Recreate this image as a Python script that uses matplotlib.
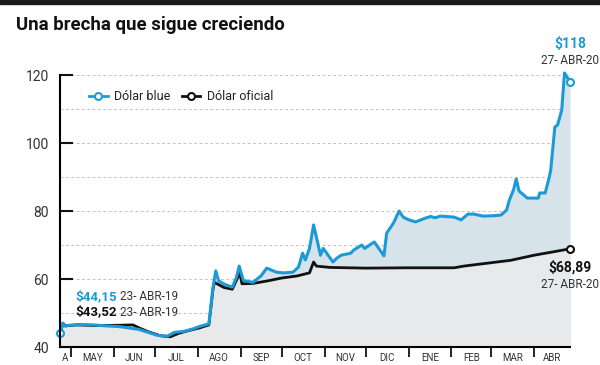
import matplotlib
matplotlib.use('Agg')
import matplotlib.pyplot as plt
import pandas as pd

plt.rcParams['font.family'] = ['Roboto', 'DejaVu Sans']

# Dólar blue
blue_dates = ['2019-04-23', '2019-04-25', '2019-04-26', '2019-04-30', '2019-05-08', '2019-05-17',
              '2019-05-27', '2019-06-05', '2019-06-12', '2019-06-19', '2019-06-26', '2019-07-03',
              '2019-07-10', '2019-07-15', '2019-07-22', '2019-07-29', '2019-08-02', '2019-08-09',
              '2019-08-12', '2019-08-14', '2019-08-16', '2019-08-20', '2019-08-26', '2019-08-29',
              '2019-08-31', '2019-09-03', '2019-09-10', '2019-09-16', '2019-09-20', '2019-09-27',
              '2019-10-02', '2019-10-09', '2019-10-13', '2019-10-16', '2019-10-18', '2019-10-21',
              '2019-10-24', '2019-10-27', '2019-10-29', '2019-10-31', '2019-11-07', '2019-11-10',
              '2019-11-13', '2019-11-20', '2019-11-22', '2019-11-28', '2019-11-30', '2019-12-07',
              '2019-12-12', '2019-12-14', '2019-12-16', '2019-12-21', '2019-12-25', '2019-12-28',
              '2020-01-01', '2020-01-06', '2020-01-13', '2020-01-17', '2020-01-20', '2020-01-24',
              '2020-02-03', '2020-02-08', '2020-02-13', '2020-02-17', '2020-02-24', '2020-03-02',
              '2020-03-08', '2020-03-12', '2020-03-14', '2020-03-17', '2020-03-19', '2020-03-21',
              '2020-03-27', '2020-04-04', '2020-04-05', '2020-04-09', '2020-04-12', '2020-04-13',
              '2020-04-16', '2020-04-18', '2020-04-21', '2020-04-23', '2020-04-27']
blue_values = [44.15, 47.0, 46.2, 46.4, 46.6, 46.5,
               46.2, 46.0, 45.6, 45.2, 44.3, 43.4,
               43.2, 44.3, 44.6, 45.4, 46.0, 46.8,
               57.6, 62.4, 59.5, 58.5, 57.6, 60.5,
               63.8, 59.6, 59.0, 61.0, 63.2, 62.0,
               61.8, 62.0, 63.5, 67.6, 65.6, 69.0,
               75.9, 70.6, 67.0, 69.0, 65.0, 66.2,
               67.0, 67.6, 68.5, 70.0, 69.0, 70.9,
               68.0, 66.8, 73.5, 76.5, 80.0, 78.2,
               77.4, 76.8, 77.9, 78.4, 78.0, 78.5,
               78.2, 77.4, 79.1, 79.1, 78.5, 78.6,
               78.8, 80.3, 83.2, 86.2, 89.4, 85.9,
               83.8, 83.8, 85.3, 85.3, 90.0, 92.0,
               104.7, 105.3, 109.7, 120.6, 118.0]

# Dólar oficial
oficial_dates = ['2019-04-23', '2019-04-25', '2019-04-27', '2019-05-05', '2019-05-20', '2019-06-05',
                 '2019-06-15', '2019-06-20', '2019-06-26', '2019-07-05', '2019-07-12', '2019-07-18',
                 '2019-07-25', '2019-08-02', '2019-08-09', '2019-08-12', '2019-08-13', '2019-08-20',
                 '2019-08-26', '2019-08-30', '2019-08-31', '2019-09-02', '2019-09-10', '2019-09-20',
                 '2019-10-01', '2019-10-12', '2019-10-21', '2019-10-24', '2019-10-26', '2019-11-05',
                 '2019-12-01', '2020-01-01', '2020-02-03', '2020-02-10', '2020-03-01', '2020-03-15',
                 '2020-04-01', '2020-04-15', '2020-04-27']
oficial_values = [43.52, 47.0, 46.2, 46.5, 46.3, 46.4,
                  46.5, 45.5, 44.5, 43.3, 43.0, 44.0,
                  44.8, 45.6, 46.5, 57.0, 59.0, 57.5,
                  57.0, 60.5, 62.8, 58.6, 58.7, 59.4,
                  60.3, 60.9, 61.8, 65.0, 63.8, 63.4,
                  63.2, 63.3, 63.3, 63.8, 64.8, 65.5,
                  67.0, 68.0, 68.89]

month_labels = ['A', 'MAY', 'JUN', 'JUL', 'AGO', 'SEP', 'OCT', 'NOV', 'DIC', 'ENE', 'FEB', 'MAR', 'ABR']

BLUE = '#1d9ad6'
BLACK = '#111111'
GREY_TXT = '#333333'

bd = pd.to_datetime(blue_dates)
od = pd.to_datetime(oficial_dates)

fig = plt.figure(figsize=(6, 3.65), dpi=100)
ax = fig.add_axes([0.1, 0.0493, 0.85, 0.7452])

# dark bar along the top edge
fig.patches.append(plt.Rectangle((0, 0.99), 1, 0.01, transform=fig.transFigure,
                                 color='#1a1a1a', zorder=10))

ax.fill_between(bd, blue_values, 40, color='#d7e3eb', lw=0, zorder=1)
ax.fill_between(od, oficial_values, 40, color='#e8e9eb', lw=0, zorder=2)

ax.plot(bd, blue_values, color=BLUE, lw=2.2, zorder=4, clip_on=False, solid_joinstyle='round')
ax.plot(od, oficial_values, color=BLACK, lw=2.0, zorder=3, clip_on=False, solid_joinstyle='round')

# start / end markers
mk = dict(marker='o', ms=5, mfc='white', mew=1.5, zorder=6, clip_on=False, ls='none')
ax.plot(bd[-1], blue_values[-1], mec=BLUE, **mk)
ax.plot(od[-1], oficial_values[-1], mec=BLACK, **mk)
ax.plot(bd[0], blue_values[0], mec=BLUE, **mk)

ax.set_xlim(bd[0], bd[-1])
ax.set_ylim(40, 120)

# dashed grid
for v in range(50, 121, 10):
    ax.axhline(v, color='#c4c4c4', lw=0.7, ls=(0, (3, 2.5)), zorder=0)

ax.set_yticks([40, 60, 80, 100, 120])
ax.tick_params(axis='y', direction='in', length=9, width=1.5, color=BLACK,
               labelsize=10, labelcolor=GREY_TXT, pad=8)

# month boundaries as ticks, labels in the middle of each month
starts = pd.date_range('2019-05-01', '2020-04-01', freq='MS')
edges = [bd[0]] + list(starts) + [bd[-1]]
mids = [a + (b - a) / 2 for a, b in zip(edges[:-1], edges[1:])]
ax.set_xticks(list(starts))
ax.set_xticklabels([])
ax.set_xticks(mids, minor=True)
ax.set_xticklabels(month_labels, minor=True)
ax.tick_params(axis='x', which='major', direction='out', length=7, width=1.3, color=BLACK)
ax.tick_params(axis='x', which='minor', length=0, pad=4, labelsize=7, labelcolor=GREY_TXT)

for s in ['top', 'right']:
    ax.spines[s].set_visible(False)
ax.spines['left'].set_linewidth(1.5)
ax.spines['bottom'].set_linewidth(1.5)
ax.spines['left'].set_zorder(7)

# legend
ax.plot([], [], color=BLUE, lw=2, marker='o', ms=5, mfc='white', mec=BLUE, mew=1.5, label='Dólar blue')
ax.plot([], [], color=BLACK, lw=2, marker='o', ms=5, mfc='white', mec=BLACK, mew=1.5, label='Dólar oficial')
ax.legend(loc='upper left', bbox_to_anchor=(0.035, 0.985), ncol=2, frameon=False,
          fontsize=9, handlelength=1.5, handletextpad=0.5, columnspacing=0.9,
          labelcolor='#222222')

# texts
fig.text(16 / 600, 1 - 25 / 365, 'Una brecha que sigue creciendo', fontsize=13.4,
         fontweight='bold', color='#111111', va='center', ha='left')
fig.text(570 / 600, 1 - 44 / 365, '$118', fontsize=10, fontweight='bold', color=BLUE,
         ha='center', va='center')
fig.text(570 / 600, 1 - 61 / 365, '27- ABR-20', fontsize=8.5, color=GREY_TXT,
         ha='center', va='center')
fig.text(570 / 600, 1 - 267 / 365, '$68,89', fontsize=10, fontweight='bold', color=BLACK,
         ha='center', va='center')
fig.text(570 / 600, 1 - 284 / 365, '27- ABR-20', fontsize=8.5, color=GREY_TXT,
         ha='center', va='center')
fig.text(75 / 600, 1 - 297 / 365, '$44,15', fontsize=9.6, fontweight='bold', color=BLUE,
         ha='left', va='center')
fig.text(120 / 600, 1 - 297 / 365, '23- ABR-19', fontsize=8.5, color=GREY_TXT,
         ha='left', va='center')
fig.text(75 / 600, 1 - 312 / 365, '$43,52', fontsize=9.6, fontweight='bold', color=BLACK,
         ha='left', va='center')
fig.text(120 / 600, 1 - 312 / 365, '23- ABR-19', fontsize=8.5, color=GREY_TXT,
         ha='left', va='center')

fig.savefig('out.png', dpi=100)
